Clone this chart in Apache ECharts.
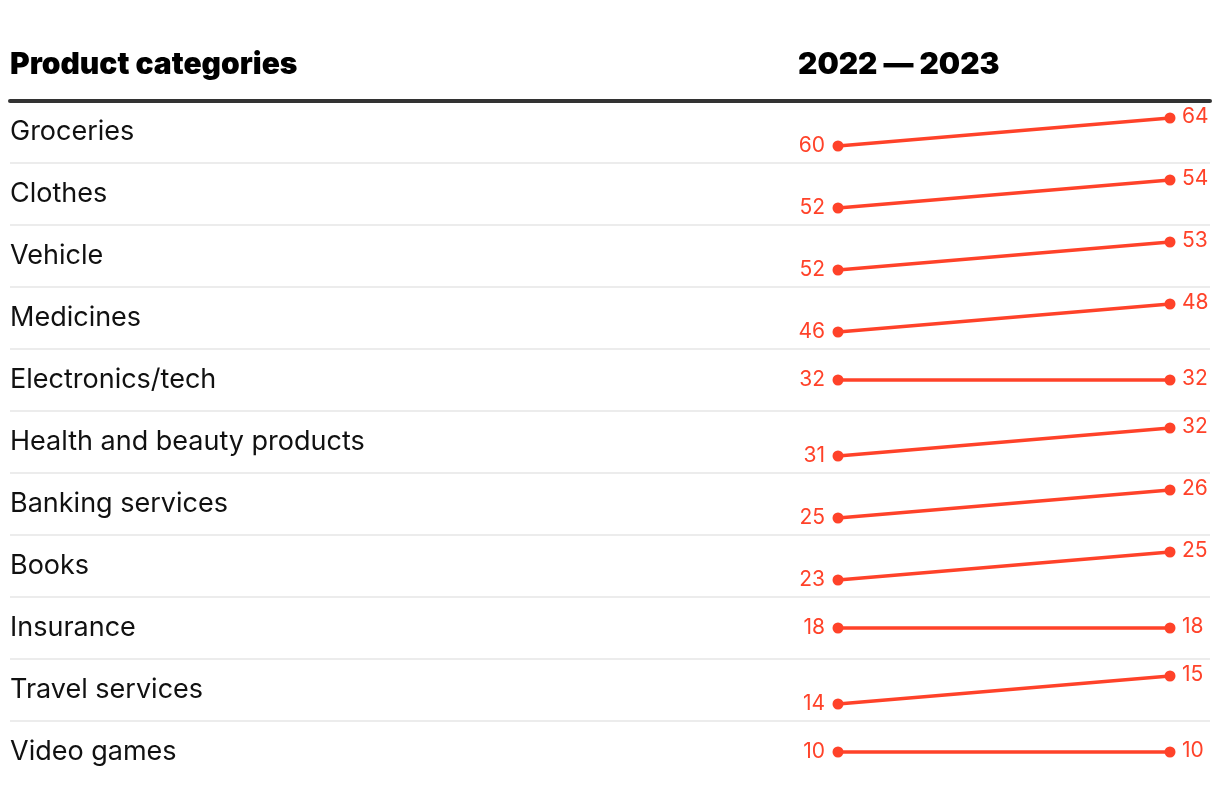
<!DOCTYPE html>
<html>
<head>
<meta charset="utf-8">
<script src="https://cdn.jsdelivr.net/npm/echarts@6/dist/echarts.min.js"></script>
<style>
html,body{margin:0;padding:0;background:#fff;}
#chart{width:1220px;height:792px;}
</style>
</head>
<body>
<div id="chart"></div>
<script>
const categories = ['Groceries','Clothes','Vehicle','Medicines','Electronics/tech','Health and beauty products','Banking services','Books','Insurance','Travel services','Video games'];
const years = ['2022','2023'];
const values2022 = [60,52,52,46,32,31,25,23,18,14,10];
const values2023 = [64,54,53,48,32,32,26,25,18,15,10];

const RED = '#ff4229';
const FONT = 'Inter, Roboto, sans-serif';

const chart = echarts.init(document.getElementById('chart'));
const seriesData = categories.map((c,i)=>[i, values2022[i], values2023[i]]);

// split lines: boundaries 0..n; hide the outer two
const splitColors = [];
for (let k = 0; k <= categories.length; k++) {
  splitColors.push(k === 0 || k === categories.length ? 'rgba(0,0,0,0)' : '#ececec');
}

chart.setOption({
  animation:false,
  title:[
    {text:'Product categories', left:10, top:50, padding:0, textStyle:{fontFamily:FONT, fontSize:30, fontWeight:900, color:'#000'}},
    {text:years[0]+' — '+years[1], left:798, top:50, padding:0, textStyle:{fontFamily:FONT, fontSize:30, fontWeight:900, color:'#000'}}
  ],
  grid:[
    {left:10, right:10, top:101, height:682},
    {left:838, right:50, top:101, height:682}
  ],
  xAxis:[
    {gridIndex:0, type:'value', position:'top', min:0, max:1, axisLine:{show:true, onZero:false, lineStyle:{color:'#333', width:4}}, axisTick:{show:false}, axisLabel:{show:false}, splitLine:{show:false}},
    {gridIndex:1, type:'category', data:years, boundaryGap:false, show:false}
  ],
  yAxis:[
    {gridIndex:0, type:'category', data:categories, inverse:true, axisLine:{show:false}, axisTick:{show:false},
     axisLabel:{inside:true, margin:0, color:'#111', fontFamily:FONT, fontSize:27, align:'left'},
     splitLine:{show:true, lineStyle:{color:splitColors, width:2}}},
    {gridIndex:1, type:'category', data:categories, inverse:true, show:false}
  ],
  series:[{
    type:'custom',
    xAxisIndex:1, yAxisIndex:1,
    data:seriesData,
    renderItem:function(params, api){
      const idx = api.value(0);
      const a = api.value(1), b = api.value(2);
      const s = Math.sign(b - a);
      const p0 = api.coord([0, idx]);
      const p1 = api.coord([1, idx]);
      const y0 = p0[1] + 14*s, y1 = p1[1] - 14*s;
      return {type:'group', children:[
        {type:'line', shape:{x1:p0[0], y1:y0, x2:p1[0], y2:y1}, style:{stroke:RED, lineWidth:3.5}},
        {type:'circle', shape:{cx:p0[0], cy:y0, r:5.5}, style:{fill:RED}},
        {type:'circle', shape:{cx:p1[0], cy:y1, r:5.5}, style:{fill:RED}},
        {type:'text', x:p0[0]-13, y:y0, style:{text:String(a), fill:RED, font:'21px '+FONT, align:'right', verticalAlign:'middle'}},
        {type:'text', x:p1[0]+12, y:y1-1, style:{text:String(b), fill:RED, font:'21px '+FONT, align:'left', verticalAlign:'middle'}}
      ]};
    }
  }]
});
</script>
</body>
</html>
